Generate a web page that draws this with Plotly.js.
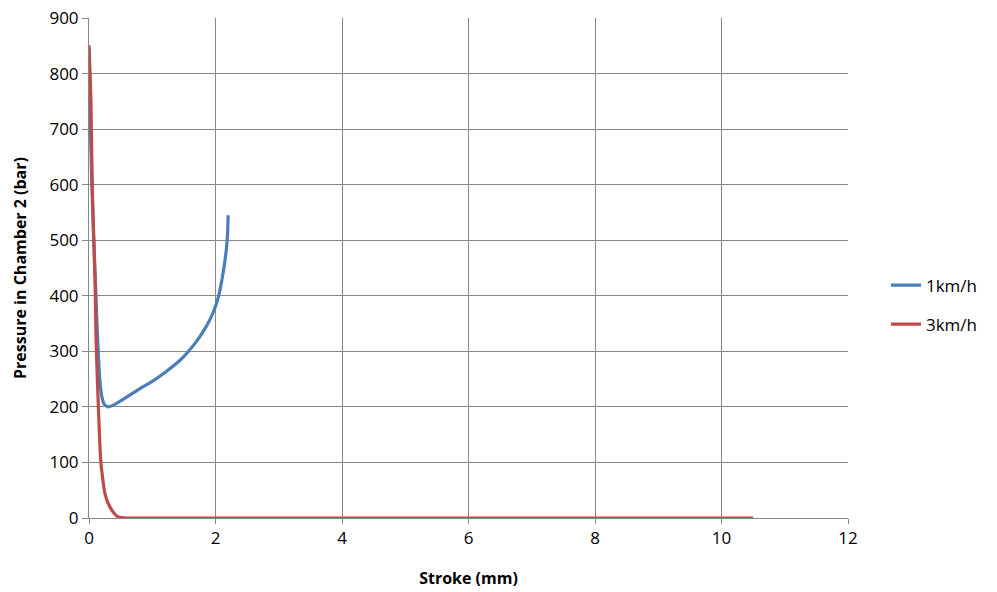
<!DOCTYPE html>
<html><head><meta charset="utf-8">
<script src="https://cdn.plot.ly/plotly-3.0.1.min.js"></script>
<style>body{margin:0;background:#fff}#c{width:997px;height:592px}</style>
</head><body><div id="c"></div>
<script>
const seriesNames = ["1km/h", "3km/h"];
const stroke1 = [0, 0.01, 0.02, 0.04, 0.07, 0.1, 0.13, 0.15, 0.17, 0.2, 0.24, 0.3, 0.4, 0.5, 0.6, 0.75, 0.85, 1.0, 1.2, 1.44, 1.55, 1.7, 1.85, 1.96, 2.05, 2.12, 2.17, 2.19, 2.2];
const press1 = [845, 800, 720, 620, 520, 430, 340, 290, 250, 220, 205, 200, 204, 211, 218, 229, 236, 246, 262, 284, 297, 318, 344, 369, 400, 441, 482, 510, 545];
const stroke3 = [0, 0.01, 0.03, 0.05, 0.07, 0.095, 0.11, 0.12, 0.15, 0.185, 0.22, 0.25, 0.29, 0.33, 0.4, 0.46, 0.6, 1, 2, 4, 6, 8, 10, 10.5];
const press3 = [851, 820, 752, 608, 518, 428, 330, 290, 194, 104, 68, 45, 30, 20, 8, 2, 0, 0, 0, 0, 0, 0, 0, 0];
const xTicks = [0, 2, 4, 6, 8, 10, 12];
const yTicks = [0, 100, 200, 300, 400, 500, 600, 700, 800, 900];

const font = "Open Sans, Liberation Sans, sans-serif";
const traces = [
  {x: stroke1, y: press1, name: seriesNames[0], legendgroup: "a", mode: "lines", line: {color: "#4A7EBB", width: 3.2, shape: "spline", smoothing: 0.6}},
  {x: stroke3, y: press3, name: seriesNames[1], legendgroup: "b", mode: "lines", line: {color: "#BE4B48", width: 3.2, shape: "spline", smoothing: 0.6}}
];
const layout = {
  width: 997, height: 592,
  margin: {l: 89, r: 149, t: 18, b: 74},
  paper_bgcolor: "#fff", plot_bgcolor: "#fff",
  font: {family: font, size: 17, color: "#000"},
  xaxis: {range: [0, 12], tickvals: xTicks, showgrid: true, gridcolor: "#878787", gridwidth: 1,
    zeroline: false, showline: true, linecolor: "#878787", ticks: "outside", ticklen: 5, tickcolor: "#878787",
    automargin: false,
    title: {text: "<b>Stroke (mm)</b>", font: {size: 16}, standoff: 24}},
  yaxis: {range: [0, 900], tickvals: yTicks, showgrid: true, gridcolor: "#878787", gridwidth: 1,
    zeroline: false, showline: true, linecolor: "#878787", ticks: "outside", ticklen: 6, tickcolor: "#878787",
    automargin: false,
    title: {text: "<b>Pressure in Chamber 2 (bar)</b>", font: {size: 16}, standoff: 18}},
  showlegend: true,
  legend: {x: 1.05, xanchor: "left", y: 0.426, yanchor: "middle", font: {size: 17}, traceorder: "grouped", tracegroupgap: 14}
};
Plotly.newPlot("c", traces, layout, {staticPlot: true});
</script></body></html>
